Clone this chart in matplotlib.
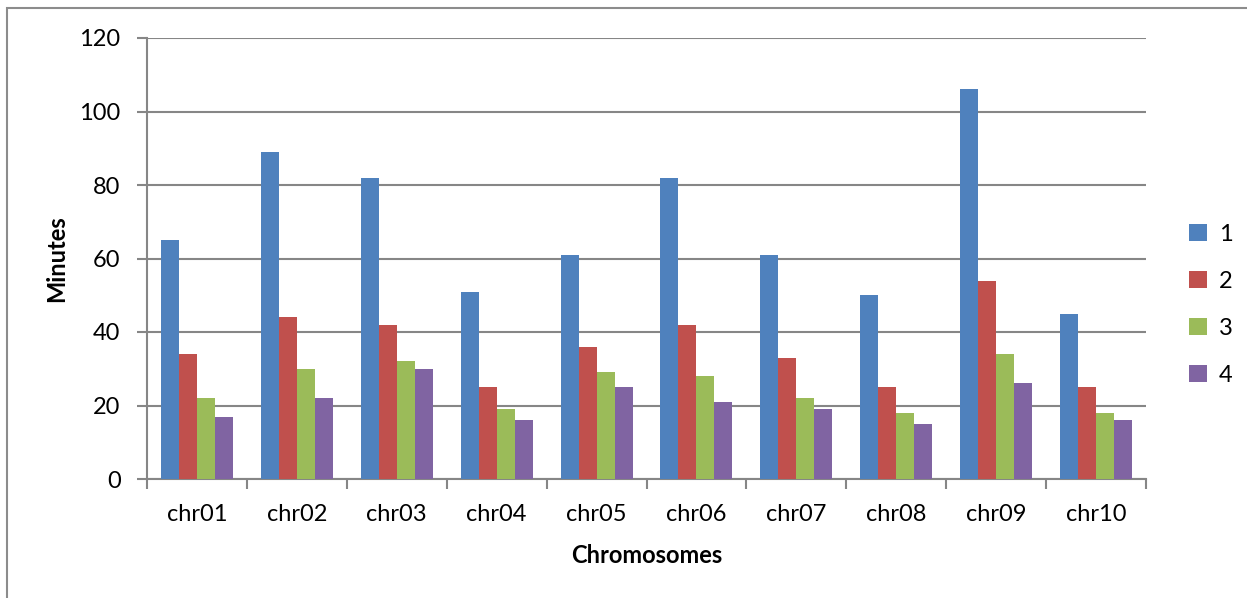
import matplotlib.pyplot as plt
import matplotlib.patches as mpatches
import numpy as np

plt.rcParams['font.family'] = ['Lato', 'DejaVu Sans']

chromosomes = ['chr01', 'chr02', 'chr03', 'chr04', 'chr05',
               'chr06', 'chr07', 'chr08', 'chr09', 'chr10']
series_labels = ['1', '2', '3', '4']
minutes_1 = [65, 89, 82, 51, 61, 82, 61, 50, 106, 45]
minutes_2 = [34, 44, 42, 25, 36, 42, 33, 25, 54, 25]
minutes_3 = [22, 30, 32, 19, 29, 28, 22, 18, 34, 18]
minutes_4 = [17, 22, 30, 16, 25, 21, 19, 15, 26, 16]

colors = ['#4f81bd', '#c0504d', '#9bbb59', '#8064a2']
grid_gray = '#868686'

fig = plt.figure(figsize=(12.47, 5.98), dpi=100)
ax = fig.add_axes([147 / 1247, 119 / 598, 999 / 1247, 441 / 598])

# outer chart border
fig.patches.append(mpatches.Rectangle((7 / 1247, -0.1), 1.1, (590 / 598) + 0.1,
                                      transform=fig.transFigure, fill=False,
                                      edgecolor='#8c8c8c', linewidth=1.5))

x = np.arange(len(chromosomes))
width = 0.18
for i, vals in enumerate([minutes_1, minutes_2, minutes_3, minutes_4]):
    ax.bar(x + (i - 1.5) * width, vals, width, color=colors[i],
           label=series_labels[i], zorder=3)

ax.set_xlim(-0.5, len(chromosomes) - 0.5)
ax.set_ylim(0, 120)
ax.set_yticks(range(0, 121, 20))
ax.yaxis.grid(True, color=grid_gray, linewidth=1.5, zorder=0)
ax.set_axisbelow(True)

ax.set_xticks(x)
ax.set_xticklabels(chromosomes)
ax.set_xticks(np.arange(-0.5, len(chromosomes)), minor=True)
ax.tick_params(axis='x', which='major', length=0, pad=18, labelsize=17)
ax.tick_params(axis='x', which='minor', length=7, width=1.5, color=grid_gray)
ax.tick_params(axis='y', length=7, width=1.5, color=grid_gray, pad=12, labelsize=17)

for side in ['top', 'right']:
    ax.spines[side].set_visible(False)
for side in ['left', 'bottom']:
    ax.spines[side].set_color(grid_gray)
    ax.spines[side].set_linewidth(1.5)

ax.set_xlabel('Chromosomes', fontsize=17, fontweight='bold', labelpad=14)
ax.set_ylabel('Minutes', fontsize=17, fontweight='bold', labelpad=8)

fig.legend(loc='center left', bbox_to_anchor=(1168 / 1247, 1 - 305 / 598),
           frameon=False, fontsize=17, handlelength=0.75, handleheight=0.75,
           handletextpad=0.5, labelspacing=1.1)

fig.savefig('out.png', dpi=100)
